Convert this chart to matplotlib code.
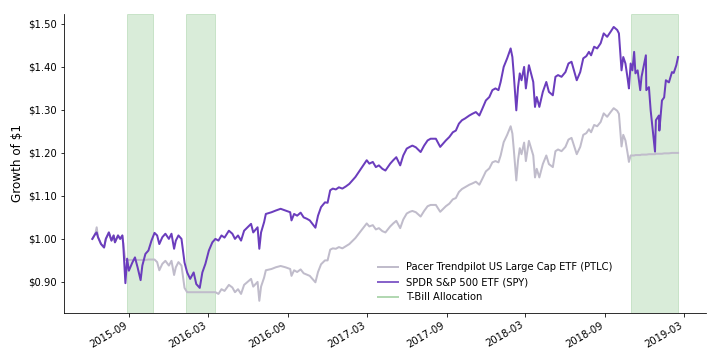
import matplotlib
matplotlib.use("Agg")
import matplotlib.pyplot as plt
import matplotlib.dates as mdates
from matplotlib.lines import Line2D
from matplotlib.ticker import FuncFormatter
import pandas as pd

# =====================
# Data
# =====================

dates = [
    "2015-06-09", "2015-06-16", "2015-06-19", "2015-06-22", "2015-06-29", "2015-07-06",
    "2015-07-10", "2015-07-17", "2015-07-23", "2015-07-28", "2015-07-31", "2015-08-07",
    "2015-08-12", "2015-08-17", "2015-08-19", "2015-08-24", "2015-08-28", "2015-09-01",
    "2015-09-09", "2015-09-15", "2015-09-21", "2015-09-28", "2015-10-02", "2015-10-09",
    "2015-10-16", "2015-10-23", "2015-10-30", "2015-11-05", "2015-11-10", "2015-11-17",
    "2015-11-24", "2015-12-02", "2015-12-08", "2015-12-14", "2015-12-18", "2015-12-24",
    "2015-12-31", "2016-01-07", "2016-01-13", "2016-01-20", "2016-01-28", "2016-02-03",
    "2016-02-11", "2016-02-17", "2016-02-24", "2016-03-03", "2016-03-11", "2016-03-18",
    "2016-03-25", "2016-04-01", "2016-04-08", "2016-04-18", "2016-04-26", "2016-05-02",
    "2016-05-09", "2016-05-16", "2016-05-23", "2016-05-31", "2016-06-08", "2016-06-13",
    "2016-06-23", "2016-06-27", "2016-07-01", "2016-07-08", "2016-07-12", "2016-07-25",
    "2016-08-04", "2016-08-15", "2016-08-26", "2016-09-06", "2016-09-09", "2016-09-15",
    "2016-09-22", "2016-09-30", "2016-10-07", "2016-10-14", "2016-10-21", "2016-11-03",
    "2016-11-09", "2016-11-16", "2016-11-25", "2016-12-01", "2016-12-07", "2016-12-13",
    "2016-12-20", "2016-12-27", "2017-01-04", "2017-01-12", "2017-01-20", "2017-01-27",
    "2017-02-03", "2017-02-13", "2017-02-21", "2017-03-01", "2017-03-07", "2017-03-15",
    "2017-03-22", "2017-03-29", "2017-04-06", "2017-04-13", "2017-04-24", "2017-05-01",
    "2017-05-08", "2017-05-17", "2017-05-24", "2017-06-01", "2017-06-08", "2017-06-14",
    "2017-06-22", "2017-07-03", "2017-07-11", "2017-07-19", "2017-07-26", "2017-08-07",
    "2017-08-17", "2017-08-23", "2017-08-30", "2017-09-07", "2017-09-15", "2017-09-22",
    "2017-09-29", "2017-10-06", "2017-10-13", "2017-10-23", "2017-10-30", "2017-11-07",
    "2017-11-15", "2017-11-22", "2017-11-30", "2017-12-08", "2017-12-15", "2017-12-22",
    "2017-12-29", "2018-01-03", "2018-01-10", "2018-01-18", "2018-01-26", "2018-01-30",
    "2018-02-02", "2018-02-08", "2018-02-12", "2018-02-16", "2018-02-20", "2018-02-26",
    "2018-03-02", "2018-03-09", "2018-03-14", "2018-03-19", "2018-03-23", "2018-03-27",
    "2018-04-02", "2018-04-10", "2018-04-18", "2018-04-24", "2018-05-03", "2018-05-09",
    "2018-05-15", "2018-05-23", "2018-06-01", "2018-06-08", "2018-06-15", "2018-06-27",
    "2018-07-05", "2018-07-12", "2018-07-19", "2018-07-25", "2018-07-30", "2018-08-06",
    "2018-08-13", "2018-08-21", "2018-08-28", "2018-09-05", "2018-09-13", "2018-09-20",
    "2018-09-28", "2018-10-02", "2018-10-05", "2018-10-08", "2018-10-12", "2018-10-17",
    "2018-10-22", "2018-10-25", "2018-10-29", "2018-11-02", "2018-11-06", "2018-11-09",
    "2018-11-14", "2018-11-20", "2018-11-23", "2018-12-03", "2018-12-04", "2018-12-10",
    "2018-12-14", "2018-12-24", "2018-12-26", "2019-01-02", "2019-01-03", "2019-01-09",
    "2019-01-14", "2019-01-18", "2019-01-25", "2019-02-01", "2019-02-05", "2019-02-11",
    "2019-02-15",
]

# SPDR S&P 500 ETF (SPY), growth of $1
spy = [
    1.000, 1.012, 1.015, 1.004, 0.988, 0.980, 1.000, 1.015, 0.996, 1.008, 0.992, 1.008,
    1.000, 1.008, 0.989, 0.897, 0.954, 0.926, 0.945, 0.957, 0.934, 0.904, 0.938, 0.965,
    0.973, 0.996, 1.014, 1.008, 0.988, 1.004, 1.012, 1.000, 1.012, 0.977, 0.996, 1.008,
    1.000, 0.945, 0.922, 0.907, 0.922, 0.895, 0.886, 0.922, 0.942, 0.973, 0.992, 1.000,
    0.996, 1.008, 1.003, 1.019, 1.012, 1.000, 1.008, 0.996, 1.019, 1.027, 1.035, 1.015,
    1.027, 0.977, 1.015, 1.039, 1.058, 1.062, 1.066, 1.070, 1.066, 1.062, 1.043, 1.058,
    1.054, 1.061, 1.050, 1.047, 1.043, 1.026, 1.054, 1.074, 1.085, 1.084, 1.113, 1.117,
    1.115, 1.120, 1.117, 1.122, 1.128, 1.136, 1.144, 1.159, 1.171, 1.183, 1.175, 1.179,
    1.167, 1.171, 1.163, 1.159, 1.175, 1.183, 1.190, 1.171, 1.194, 1.210, 1.214, 1.217,
    1.213, 1.202, 1.217, 1.229, 1.233, 1.233, 1.214, 1.221, 1.229, 1.237, 1.248, 1.252,
    1.268, 1.276, 1.280, 1.287, 1.291, 1.295, 1.287, 1.303, 1.322, 1.330, 1.346, 1.350,
    1.346, 1.365, 1.400, 1.420, 1.443, 1.423, 1.385, 1.299, 1.353, 1.385, 1.369, 1.400,
    1.350, 1.404, 1.385, 1.365, 1.307, 1.330, 1.307, 1.342, 1.365, 1.342, 1.334, 1.377,
    1.381, 1.377, 1.388, 1.408, 1.412, 1.369, 1.388, 1.420, 1.425, 1.435, 1.427, 1.447,
    1.443, 1.455, 1.478, 1.470, 1.482, 1.493, 1.486, 1.478, 1.435, 1.392, 1.423, 1.408,
    1.373, 1.350, 1.408, 1.392, 1.435, 1.385, 1.392, 1.346, 1.377, 1.427, 1.346, 1.353,
    1.299, 1.203, 1.276, 1.287, 1.252, 1.322, 1.329, 1.369, 1.364, 1.388, 1.386, 1.404,
    1.423,
]

# Pacer Trendpilot US Large Cap ETF (PTLC), growth of $1
ptlc = [
    1.000, 1.012, 1.027, 1.004, 0.988, 0.980, 1.000, 1.015, 0.996, 1.008, 0.992, 1.008,
    1.000, 1.008, 0.989, 0.951, 0.951, 0.951, 0.951, 0.951, 0.951, 0.951, 0.951, 0.951,
    0.952, 0.952, 0.952, 0.946, 0.927, 0.942, 0.949, 0.938, 0.949, 0.916, 0.934, 0.946,
    0.938, 0.886, 0.876, 0.876, 0.876, 0.876, 0.876, 0.876, 0.876, 0.876, 0.876, 0.876,
    0.872, 0.883, 0.879, 0.893, 0.887, 0.876, 0.883, 0.872, 0.893, 0.900, 0.907, 0.889,
    0.900, 0.856, 0.889, 0.910, 0.927, 0.930, 0.934, 0.937, 0.934, 0.930, 0.914, 0.927,
    0.923, 0.929, 0.920, 0.917, 0.914, 0.899, 0.923, 0.941, 0.950, 0.950, 0.975, 0.978,
    0.977, 0.981, 0.978, 0.983, 0.988, 0.995, 1.002, 1.015, 1.025, 1.036, 1.029, 1.032,
    1.022, 1.025, 1.018, 1.015, 1.029, 1.036, 1.042, 1.025, 1.045, 1.059, 1.063, 1.065,
    1.062, 1.052, 1.065, 1.076, 1.079, 1.079, 1.063, 1.069, 1.076, 1.082, 1.092, 1.095,
    1.109, 1.116, 1.120, 1.126, 1.129, 1.133, 1.126, 1.140, 1.157, 1.164, 1.178, 1.181,
    1.178, 1.194, 1.225, 1.242, 1.262, 1.245, 1.211, 1.136, 1.183, 1.211, 1.197, 1.224,
    1.181, 1.228, 1.211, 1.194, 1.143, 1.163, 1.143, 1.174, 1.194, 1.174, 1.167, 1.204,
    1.208, 1.204, 1.214, 1.231, 1.235, 1.197, 1.214, 1.242, 1.246, 1.255, 1.248, 1.265,
    1.262, 1.272, 1.292, 1.284, 1.295, 1.304, 1.298, 1.291, 1.253, 1.215, 1.242, 1.229,
    1.199, 1.179, 1.194, 1.194, 1.194, 1.195, 1.195, 1.195, 1.196, 1.196, 1.196, 1.197,
    1.197, 1.197, 1.198, 1.198, 1.198, 1.198, 1.199, 1.199, 1.199, 1.200, 1.200, 1.200,
    1.200,
]

# Periods where PTLC sat in T-Bills
tbill_start = ["2015-08-27", "2016-01-10", "2018-10-29"]
tbill_end = ["2015-10-27", "2016-03-16", "2019-02-15"]

series_labels = [
    "Pacer Trendpilot US Large Cap ETF (PTLC)",
    "SPDR S&P 500 ETF (SPY)",
    "T-Bill Allocation",
]

# =====================
# Figure
# =====================
x = pd.to_datetime(dates)

fig = plt.figure(figsize=(10, 5), dpi=72)
ax = fig.add_axes([0.089, 0.131, 0.892, 0.830])

col_ptlc = "#c0bccb"
col_spy = "#6b3dbd"
col_tbill = "green"

for s, e in zip(tbill_start, tbill_end):
    ax.axvspan(pd.Timestamp(s), pd.Timestamp(e), color=col_tbill, alpha=0.15, zorder=0)

ax.plot(x, ptlc, color=col_ptlc, lw=2.0, zorder=2)
ax.plot(x, spy, color=col_spy, lw=2.0, zorder=3)

ax.set_xlim(pd.Timestamp("2015-04-05"), pd.Timestamp("2019-04-21"))
ax.set_ylim(0.828, 1.523)
ax.yaxis.set_major_formatter(FuncFormatter(lambda v, p: f"${v:.2f}"))
ax.set_ylabel("Growth of $1", fontsize=12)

ax.xaxis.set_major_locator(mdates.MonthLocator(bymonth=[3, 9]))
ax.xaxis.set_major_formatter(mdates.DateFormatter("%Y-%m"))
for lab in ax.get_xticklabels():
    lab.set_rotation(30)
    lab.set_ha("right")

ax.tick_params(labelsize=10)
ax.spines["top"].set_visible(False)
ax.spines["right"].set_visible(False)

handles = [
    Line2D([], [], color=col_ptlc, lw=2),
    Line2D([], [], color=col_spy, lw=2, alpha=0.8),
    Line2D([], [], color=col_tbill, lw=2, alpha=0.3),
]
ax.legend(handles, series_labels, loc="lower left", bbox_to_anchor=(0.475, 0.005),
          frameon=False, fontsize=10)

fig.savefig("out.png", dpi=72)
